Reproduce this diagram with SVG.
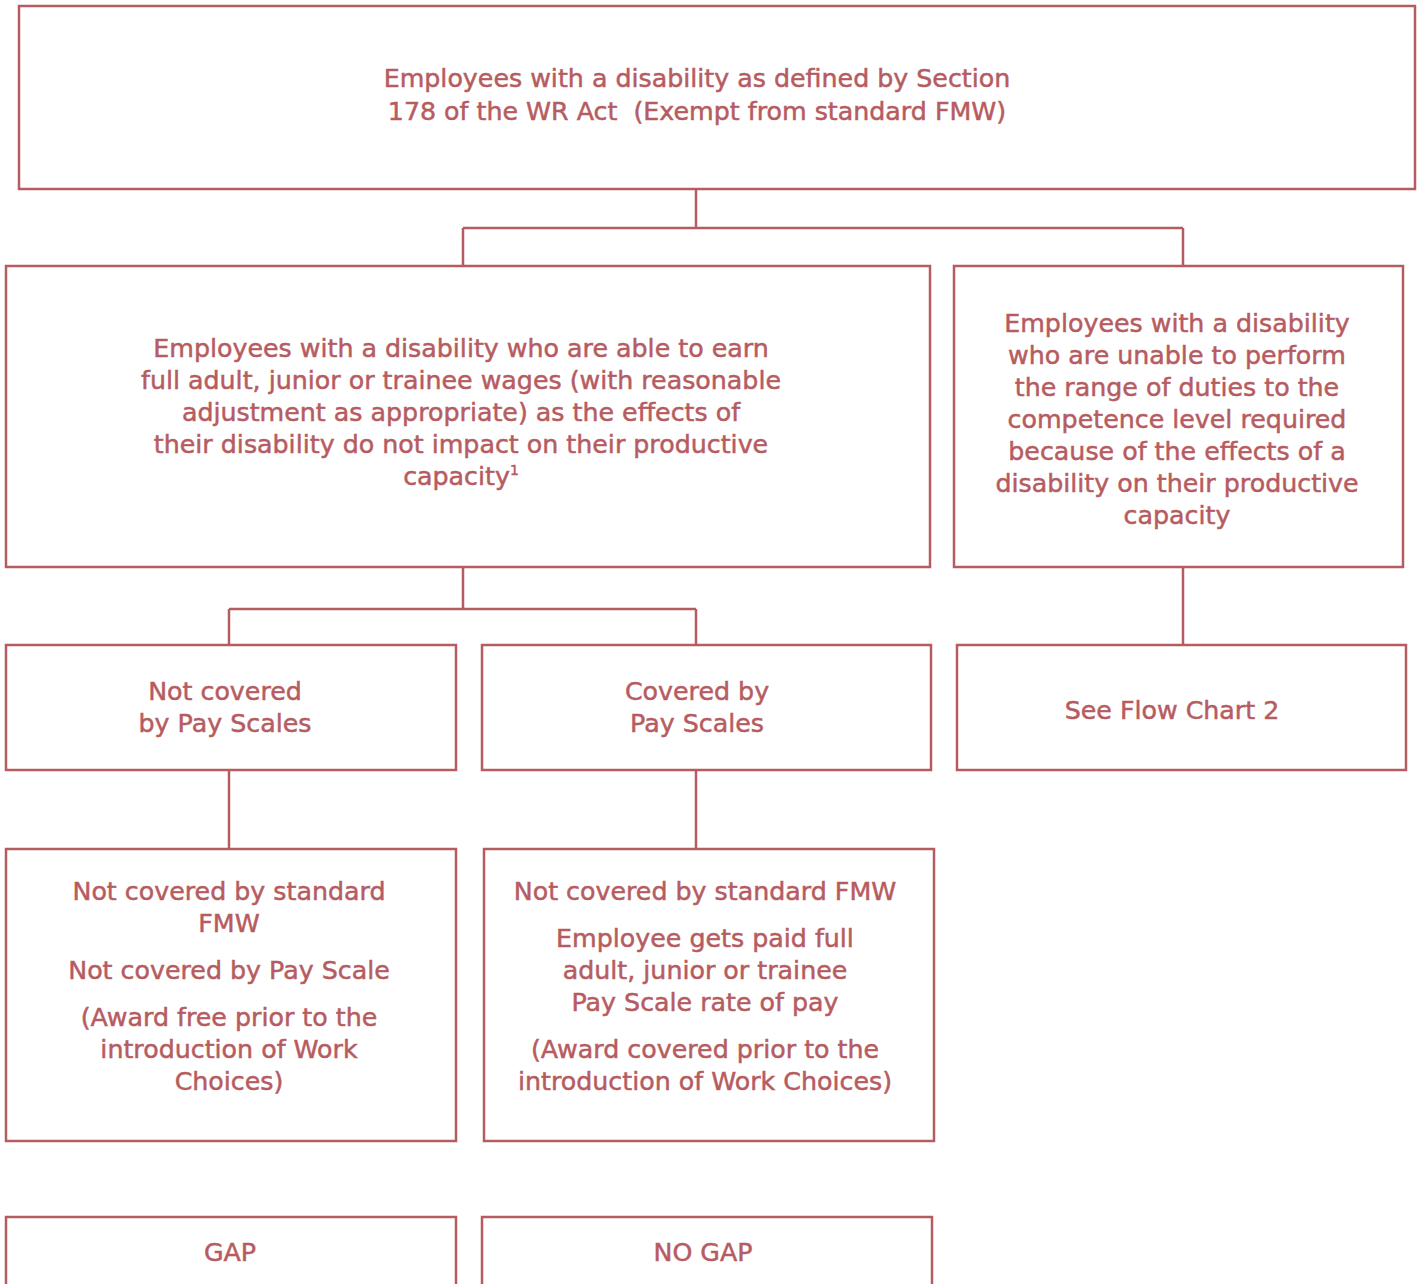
<svg xmlns="http://www.w3.org/2000/svg" width="1422" height="1284" viewBox="0 0 1422 1284">
<style>
.box{fill:#fff;stroke:#B65C61;stroke-width:2.5}
.c{fill:none;stroke:#B65C61;stroke-width:2.5}
text{font-family:"DejaVu Sans",Verdana,sans-serif;font-size:25.3px;fill:#B65C61;text-anchor:middle;stroke:#B65C61;stroke-width:0.5}
</style>
<rect width="1422" height="1284" fill="#fff"/>
<g id="connectors">
<path class="c" d="M696 189V228M463 228H1183M463 228V266M1183 228V266"/>
<path class="c" d="M463 567V609M229 609H696M229 609V645M696 609V645"/>
<path class="c" d="M1183 567V645"/>
<path class="c" d="M229 770V849M696 770V849"/>
</g>
<g id="top">
<rect class="box" x="19" y="6" width="1396" height="183"/>
<text x="697" y="87">Employees with a disability as defined by Section</text>
<text x="697" y="120" xml:space="preserve">178 of the WR Act  (Exempt from standard FMW)</text>
</g>
<g id="able">
<rect class="box" x="6" y="266" width="924" height="301"/>
<text x="461" y="357">Employees with a disability who are able to earn</text>
<text x="461" y="389">full adult, junior or trainee wages (with reasonable</text>
<text x="461" y="421">adjustment as appropriate) as the effects of</text>
<text x="461" y="453">their disability do not impact on their productive</text>
<text x="461" y="485">capacity<tspan font-size="14" dy="-10">1</tspan></text>
</g>
<g id="unable">
<rect class="box" x="954" y="266" width="449" height="301"/>
<text x="1177" y="332">Employees with a disability</text>
<text x="1177" y="364">who are unable to perform</text>
<text x="1177" y="396">the range of duties to the</text>
<text x="1177" y="428">competence level required</text>
<text x="1177" y="460">because of the effects of a</text>
<text x="1177" y="492">disability on their productive</text>
<text x="1177" y="524">capacity</text>
</g>
<g id="notcovered">
<rect class="box" x="6" y="645" width="450" height="125"/>
<text x="225" y="700">Not covered</text>
<text x="225" y="732">by Pay Scales</text>
</g>
<g id="covered">
<rect class="box" x="482" y="645" width="449" height="125"/>
<text x="697" y="700">Covered by</text>
<text x="697" y="732">Pay Scales</text>
</g>
<g id="flowchart2">
<rect class="box" x="957" y="645" width="449" height="125"/>
<text x="1172" y="719">See Flow Chart 2</text>
</g>
<g id="gapdetail">
<rect class="box" x="6" y="849" width="450" height="292"/>
<text x="229" y="900">Not covered by standard</text>
<text x="229" y="932">FMW</text>
<text x="229" y="979">Not covered by Pay Scale</text>
<text x="229" y="1026">(Award free prior to the</text>
<text x="229" y="1058">introduction of Work</text>
<text x="229" y="1090">Choices)</text>
</g>
<g id="nogapdetail">
<rect class="box" x="484" y="849" width="450" height="292"/>
<text x="705" y="900">Not covered by standard FMW</text>
<text x="705" y="947">Employee gets paid full</text>
<text x="705" y="979">adult, junior or trainee</text>
<text x="705" y="1011">Pay Scale rate of pay</text>
<text x="705" y="1058">(Award covered prior to the</text>
<text x="705" y="1090">introduction of Work Choices)</text>
</g>
<g id="gap">
<rect class="box" x="6" y="1217" width="450" height="80"/>
<text x="230" y="1261">GAP</text>
</g>
<g id="nogap">
<rect class="box" x="482" y="1217" width="450" height="80"/>
<text x="703" y="1261">NO GAP</text>
</g>
</svg>
